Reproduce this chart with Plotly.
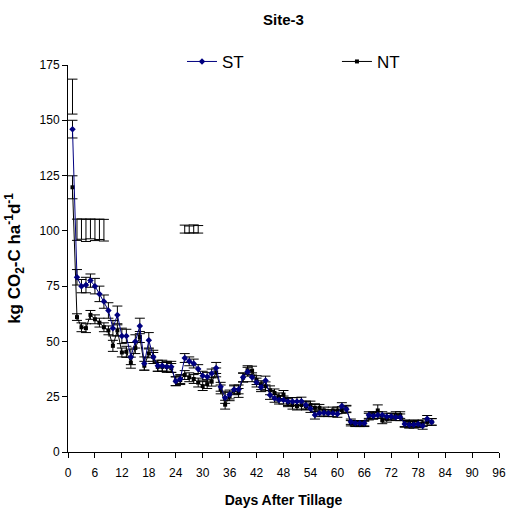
import plotly.graph_objects as go

# Daily CO2 flux after tillage, site 3
days = list(range(1, 82))

st_flux = [146, 79, 75, 75.5, 77.5, 75, 71.5, 68, 64, 56,
           62, 52.5, 52.5, 43, 50, 57, 40, 50.5, 43, 39,
           39, 38.5, 38.5, 32, 33, 42.5, 41, 40, 37.5, 34.5,
           34, 35.5, 38, 29.5, 24.5, 26, 28.3, 28.3, 33.8, 36.3,
           33.8, 31.4, 29.3, 32.3, 25.8, 24.3, 23.5, 23.5, 22.8, 22.8,
           22.8, 23, 21.2, 19.7, 16.7, 17.5, 17.8, 17.5, 17.5, 17.2,
           20.8, 19.3, 13.7, 13, 13, 13, 16.7, 16.3, 16.7, 16.7,
           16, 16, 15.7, 15.7, 12.7, 12.3, 12.3, 12.7, 11.8, 15,
           13.6]
st_err = [4.0, 3.5, 3.0, 3.5, 3.0, 3.5, 3.5, 3.0, 3.5, 3.5,
          4.0, 3.5, 3.0, 3.5, 3.0, 3.5, 3.0, 3.5, 3.0, 2.5,
          2.5, 2.5, 2.5, 2.0, 2.0, 2.0, 2.0, 2.0, 2.0, 2.0,
          2.0, 2.0, 2.5, 2.0, 2.5, 2.0, 2.0, 2.0, 2.0, 2.0,
          2.0, 2.0, 2.0, 2.0, 2.0, 1.8, 1.8, 1.8, 1.8, 1.8,
          1.8, 1.8, 1.8, 1.8, 1.8, 1.5, 1.5, 1.5, 1.5, 1.5,
          1.5, 1.5, 1.2, 1.2, 1.2, 1.2, 1.5, 1.5, 1.5, 1.5,
          1.5, 1.5, 1.5, 1.5, 1.5, 1.5, 1.5, 1.5, 1.5, 1.5,
          1.5]

nt_flux = [119.7, 61, 56.4, 56, 62, 60, 58.5, 56.4, 55, 48,
           55, 45, 45.3, 40.4, 47, 52, 39, 44.6, 43, 38.5,
           38.5, 38.5, 38, 32, 32.5, 34.8, 33.8, 33, 31.4, 29.8,
           30.7, 31.8, 36, 28.3, 21.4, 25.2, 27.9, 26.7, 33.6, 37,
           36.8, 32.5, 30.2, 29.7, 27.9, 26.7, 24.9, 26, 22.3, 21.2,
           20.8, 21.2, 20.8, 21.2, 20, 20, 18.8, 17.6, 18.8, 18.8,
           19, 19.6, 13, 12.7, 12.7, 12.7, 16, 16.7, 18.8, 14.3,
           15, 16, 16.7, 16.7, 13, 12.7, 13, 12.7, 13, 13.6,
           13.6]
nt_err = [5.2, 1.5, 2.0, 2.0, 2.0, 2.0, 2.0, 2.0, 2.0, 2.5,
          2.5, 2.0, 2.5, 2.5, 2.5, 2.5, 2.0, 2.0, 2.0, 2.0,
          2.0, 2.0, 2.0, 2.0, 2.0, 2.0, 2.0, 2.0, 2.0, 2.0,
          2.0, 2.0, 2.0, 2.0, 2.0, 2.0, 2.0, 2.0, 2.0, 2.0,
          2.0, 2.0, 2.0, 2.0, 2.0, 1.8, 1.8, 1.8, 1.8, 1.8,
          1.8, 1.8, 1.8, 1.8, 1.8, 1.5, 1.5, 1.5, 1.5, 1.5,
          1.5, 1.5, 1.2, 1.2, 1.2, 1.2, 1.5, 1.5, 2.5, 1.5,
          1.5, 1.5, 1.5, 1.5, 1.5, 1.5, 1.5, 1.5, 1.5, 1.5,
          1.5]

# Stray error bars with no plotted point
stray_days = [1, 2, 3, 4, 5, 6, 7, 8, 26, 27, 28, 29]
stray_vals = [160.7, 100.5, 100.8, 100.2, 100.9, 100.4, 100.7, 100.3,
              100.8, 100.6, 100.9, 100.7]
stray_err = [7.9, 4.8, 4.6, 5.0, 4.5, 4.8, 4.6, 4.9, 1.8, 1.6, 1.8, 1.7]

FONT = "Arial, Liberation Sans, sans-serif"

fig = go.Figure()

fig.add_trace(go.Scatter(
    x=stray_days, y=stray_vals, mode="markers", showlegend=False,
    marker=dict(size=1, color="rgba(0,0,0,0)"),
    error_y=dict(type="data", array=stray_err, color="black",
                 thickness=1, width=5),
    hoverinfo="skip"))

fig.add_trace(go.Scatter(
    x=days, y=nt_flux, mode="lines+markers", name="NT", legend="legend2",
    line=dict(color="black", width=1),
    marker=dict(symbol="square", size=4, color="black"),
    error_y=dict(type="data", array=nt_err, color="black",
                 thickness=1, width=5)))

fig.add_trace(go.Scatter(
    x=days, y=st_flux, mode="lines+markers", name="ST", legend="legend",
    line=dict(color="#000080", width=1),
    marker=dict(symbol="diamond", size=5, color="#000080"),
    error_y=dict(type="data", array=st_err, color="black",
                 thickness=1, width=5)))

legend_style = dict(orientation="h", xanchor="left", y=1.008,
                    yanchor="middle", font=dict(size=17),
                    bgcolor="rgba(0,0,0,0)")

fig.update_layout(
    width=507, height=515,
    margin=dict(l=68, r=8, t=65, b=63, autoexpand=False),
    paper_bgcolor="white", plot_bgcolor="white",
    font=dict(family=FONT, size=12, color="black"),
    title=dict(text="<b>Site-3</b>", xref="paper", x=0.5, xanchor="center",
               y=0.962, yanchor="middle", font=dict(size=15)),
    legend=dict(x=0.2645, **legend_style),
    legend2=dict(x=0.624, **legend_style),
    xaxis=dict(range=[0, 96], tick0=0, dtick=6, showline=True,
               linecolor="black", linewidth=1, ticks="outside",
               ticklen=5, tickcolor="black", showgrid=False,
               zeroline=False, automargin=False, ticklabelstandoff=5,
               title=dict(text="<b>Days After Tillage</b>",
                          font=dict(size=14), standoff=15)),
    yaxis=dict(range=[0, 175], tick0=0, dtick=25, showline=True,
               linecolor="black", linewidth=1, ticks="outside",
               ticklen=5, tickcolor="black", showgrid=False,
               zeroline=False, automargin=False,
               title=dict(text="<b>kg CO<sub>2</sub>-C ha<sup>-1</sup>d<sup>-1</sup></b>",
                          font=dict(size=17), standoff=14)),
)

fig.write_html("out.html")
